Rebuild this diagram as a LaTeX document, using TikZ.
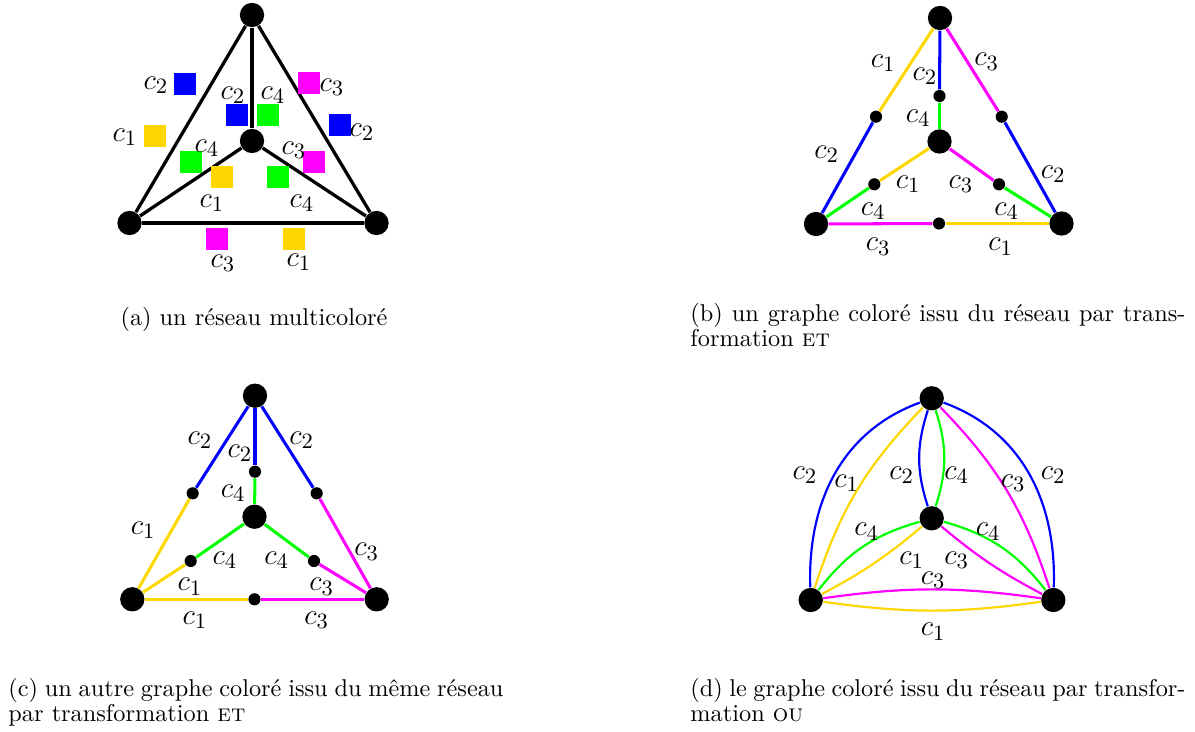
\documentclass[tikz,border=0pt]{standalone}
\usepackage{tikz}
\definecolor{cyel}{RGB}{255,215,0}
\definecolor{cblue}{RGB}{0,0,255}
\definecolor{cgreen}{RGB}{0,255,0}
\definecolor{cmag}{RGB}{255,0,255}
\newcommand{\capline}[1]{\makebox[203.7pt][s]{#1}}
\begin{document}
\begin{tikzpicture}[x=0.4115pt,y=0.4115pt,
 big/.style={circle,fill=black,inner sep=0pt,minimum size=10pt},
 bigA/.style={circle,fill=black,inner sep=0pt,minimum size=10pt},
 dot/.style={circle,fill=black,inner sep=0pt,minimum size=5pt},
 sq/.style={rectangle,inner sep=0pt,minimum size=9pt},
 lab/.style={inner sep=0pt,font=\fontsize{12.3}{14}\selectfont},
 edgeA/.style={line width=1.35pt,black},
 ce/.style={line width=1.25pt},
 de/.style={line width=0.9pt},
 captxt/.style={inner sep=0pt,font=\fontsize{10}{12}\selectfont}]
\useasboundingbox (0,0) rectangle (1195,-731);

% ---------------- (a)
\node[bigA] (at) at (252,-15) {};
\node[bigA] (ac) at (252,-141) {};
\node[bigA] (al) at (129.5,-223) {};
\node[bigA] (ar) at (376.5,-223) {};
\draw[edgeA] (at) -- (al);
\draw[edgeA] (at) -- (ar);
\draw[edgeA] (al) -- (ar);
\draw[edgeA] (at) -- (ac);
\draw[edgeA] (ac) -- (al);
\draw[edgeA] (ac) -- (ar);
\node[sq,fill=cblue]  (sa1)  at (185,-84) {};
\node[sq,fill=cyel]   (sa2)  at (155,-136) {};
\node[sq,fill=cblue]  (sa3)  at (237,-115) {};
\node[sq,fill=cgreen] (sa4)  at (268,-115) {};
\node[sq,fill=cmag]   (sa5)  at (309,-83) {};
\node[sq,fill=cblue]  (sa6)  at (340,-125) {};
\node[sq,fill=cgreen] (sa7)  at (191,-162) {};
\node[sq,fill=cyel]   (sa8)  at (222,-177) {};
\node[sq,fill=cmag]   (sa9)  at (314,-162) {};
\node[sq,fill=cgreen] (sa10) at (278,-177) {};
\node[sq,fill=cmag]   (sa11) at (217,-239) {};
\node[sq,fill=cyel]   (sa12) at (294,-239) {};
\node[lab] (la1)  at (156,-85)  {$c_2$};
\node[lab] (la2)  at (125,-137) {$c_1$};
\node[lab] (la3)  at (233,-95)  {$c_2$};
\node[lab] (la4)  at (273,-95)  {$c_4$};
\node[lab] (la5)  at (332,-87)  {$c_3$};
\node[lab] (la6)  at (362,-132) {$c_2$};
\node[lab] (la7)  at (207,-148) {$c_4$};
\node[lab] (la8)  at (212,-203) {$c_1$};
\node[lab] (la9)  at (294,-150) {$c_3$};
\node[lab] (la10) at (302,-203) {$c_4$};
\node[lab] (la11) at (223,-263) {$c_3$};
\node[lab] (la12) at (299,-262) {$c_1$};

% ---------------- (b)
\node[big] (bt) at (940,-18) {};
\node[big] (bc) at (939.5,-141.5) {};
\node[big] (bl) at (816,-224) {};
\node[big] (br) at (1061.5,-223.5) {};
\node[dot] (bm1) at (876,-116.7) {};
\node[dot] (bm2) at (1001.7,-116.7) {};
\node[dot] (bm3) at (939.5,-96) {};
\node[dot] (bm4) at (874.3,-184.3) {};
\node[dot] (bm5) at (999,-184.3) {};
\node[dot] (bm6) at (939,-223.5) {};
\draw[ce,cyel]   (bt) -- (bm1);
\draw[ce,cblue]  (bm1) -- (bl);
\draw[ce,cblue]  (bt) -- (bm3);
\draw[ce,cgreen] (bm3) -- (bc);
\draw[ce,cmag]   (bt) -- (bm2);
\draw[ce,cblue]  (bm2) -- (br);
\draw[ce,cyel]   (bc) -- (bm4);
\draw[ce,cgreen] (bm4) -- (bl);
\draw[ce,cmag]   (bc) -- (bm5);
\draw[ce,cgreen] (bm5) -- (br);
\draw[ce,cmag]   (bl) -- (bm6);
\draw[ce,cyel]   (bm6) -- (br);
\node[lab] (lb1)  at (883.3,-63.3)  {$c_1$};
\node[lab] (lb2)  at (925,-76)      {$c_2$};
\node[lab] (lb3)  at (986.7,-61.7)  {$c_3$};
\node[lab] (lb4)  at (918.3,-118.3) {$c_4$};
\node[lab] (lb5)  at (826.7,-154.3) {$c_2$};
\node[lab] (lb6)  at (1053.3,-174)  {$c_2$};
\node[lab] (lb7)  at (908.3,-184.3) {$c_1$};
\node[lab] (lb8)  at (961,-184.3)   {$c_3$};
\node[lab] (lb9)  at (873.3,-211)   {$c_4$};
\node[lab] (lb10) at (1006.7,-211)  {$c_4$};
\node[lab] (lb11) at (878.3,-246.7) {$c_3$};
\node[lab] (lb12) at (1000.7,-246.7){$c_1$};

% ---------------- (c)
\node[big] (ct) at (255,-395.7) {};
\node[big] (cc) at (254.5,-516.7) {};
\node[big] (cl) at (132.3,-599.3) {};
\node[big] (cr) at (376.7,-599.3) {};
\node[dot] (cm1) at (192.7,-493.3) {};
\node[dot] (cm2) at (316.7,-493.3) {};
\node[dot] (cm3) at (255,-471.7) {};
\node[dot] (cm4) at (190.7,-561) {};
\node[dot] (cm5) at (314,-561) {};
\node[dot] (cm6) at (254.5,-599.3) {};
\draw[ce,cblue]  (ct) -- (cm1);
\draw[ce,cyel]   (cm1) -- (cl);
\draw[ce,cblue]  (ct) -- (cm3);
\draw[ce,cgreen] (cm3) -- (cc);
\draw[ce,cblue]  (ct) -- (cm2);
\draw[ce,cmag]   (cm2) -- (cr);
\draw[ce,cgreen] (cc) -- (cm4);
\draw[ce,cyel]   (cm4) -- (cl);
\draw[ce,cgreen] (cc) -- (cm5);
\draw[ce,cmag]   (cm5) -- (cr);
\draw[ce,cyel]   (cl) -- (cm6);
\draw[ce,cmag]   (cm6) -- (cr);
\node[lab] (lc1)  at (200,-440)     {$c_2$};
\node[lab] (lc2)  at (240,-453.3)   {$c_2$};
\node[lab] (lc3)  at (301.7,-440)   {$c_2$};
\node[lab] (lc4)  at (233.3,-493.3) {$c_4$};
\node[lab] (lc5)  at (143.3,-530)   {$c_1$};
\node[lab] (lc6)  at (366.7,-551.7) {$c_3$};
\node[lab] (lc7)  at (225,-560)     {$c_4$};
\node[lab] (lc8)  at (276.7,-560)   {$c_4$};
\node[lab] (lc9)  at (190,-586.7)   {$c_1$};
\node[lab] (lc10) at (321.7,-586.7) {$c_3$};
\node[lab] (lc11) at (195,-620)     {$c_1$};
\node[lab] (lc12) at (316.7,-620)   {$c_3$};

% ---------------- (d)
\node[big] (dt) at (931.7,-398.3) {};
\node[big] (dc) at (931.7,-518.3) {};
\node[big] (dl) at (810.7,-600) {};
\node[big] (dr) at (1053.3,-600) {};
\draw[de,cblue]  (dl) to[out=92,in=200] (dt);
\draw[de,cblue]  (dr) to[out=88,in=-20] (dt);
\draw[de,cyel]   (dl) to[bend left=13] (dt);
\draw[de,cmag]   (dt) to[bend left=13] (dr);
\draw[de,cblue]  (dt) to[bend right=18] (dc);
\draw[de,cgreen] (dt) to[bend left=18] (dc);
\draw[de,cgreen] (dc) to[bend right=18] (dl);
\draw[de,cyel]   (dc) to[bend left=6] (dl);
\draw[de,cgreen] (dc) to[bend left=18] (dr);
\draw[de,cmag]   (dc) to[bend right=6] (dr);
\draw[de,cmag]   (dl) to[bend left=8] (dr);
\draw[de,cyel]   (dl) to[bend right=8] (dr);
\node[lab] (ld1)  at (805,-475)     {$c_2$};
\node[lab] (ld2)  at (846.7,-483.3) {$c_1$};
\node[lab] (ld3)  at (901.7,-475)   {$c_2$};
\node[lab] (ld4)  at (956.7,-475)   {$c_4$};
\node[lab] (ld5)  at (1013.3,-483.3){$c_3$};
\node[lab] (ld6)  at (1053.3,-475)  {$c_2$};
\node[lab] (ld7)  at (866.7,-531.7) {$c_4$};
\node[lab] (ld8)  at (988.3,-531.7) {$c_4$};
\node[lab] (ld9)  at (911.7,-560)   {$c_1$};
\node[lab] (ld10) at (956.7,-560)   {$c_3$};
\node[lab] (ld11) at (933.3,-580)   {$c_3$};
\node[lab] (ld12) at (933.3,-631.7) {$c_1$};

% ---------------- captions
\node[captxt,anchor=base] (capa) at (254,-325) {(a) un réseau multicoloré};
\node[captxt,anchor=base west] (capb1) at (690,-321) {\capline{(b) un graphe coloré issu du réseau par trans-}};
\node[captxt,anchor=base west] (capb2) at (690,-346) {formation \textsc{et}};
\node[captxt,anchor=base west] (capc1) at (8,-696) {\capline{(c) un autre graphe coloré issu du même réseau}};
\node[captxt,anchor=base west] (capc2) at (8,-721) {par transformation \textsc{et}};
\node[captxt,anchor=base west] (capd1) at (690,-696) {\capline{(d) le graphe coloré issu du réseau par transfor-}};
\node[captxt,anchor=base west] (capd2) at (690,-721) {mation \textsc{ou}};
\end{tikzpicture}
\end{document}
